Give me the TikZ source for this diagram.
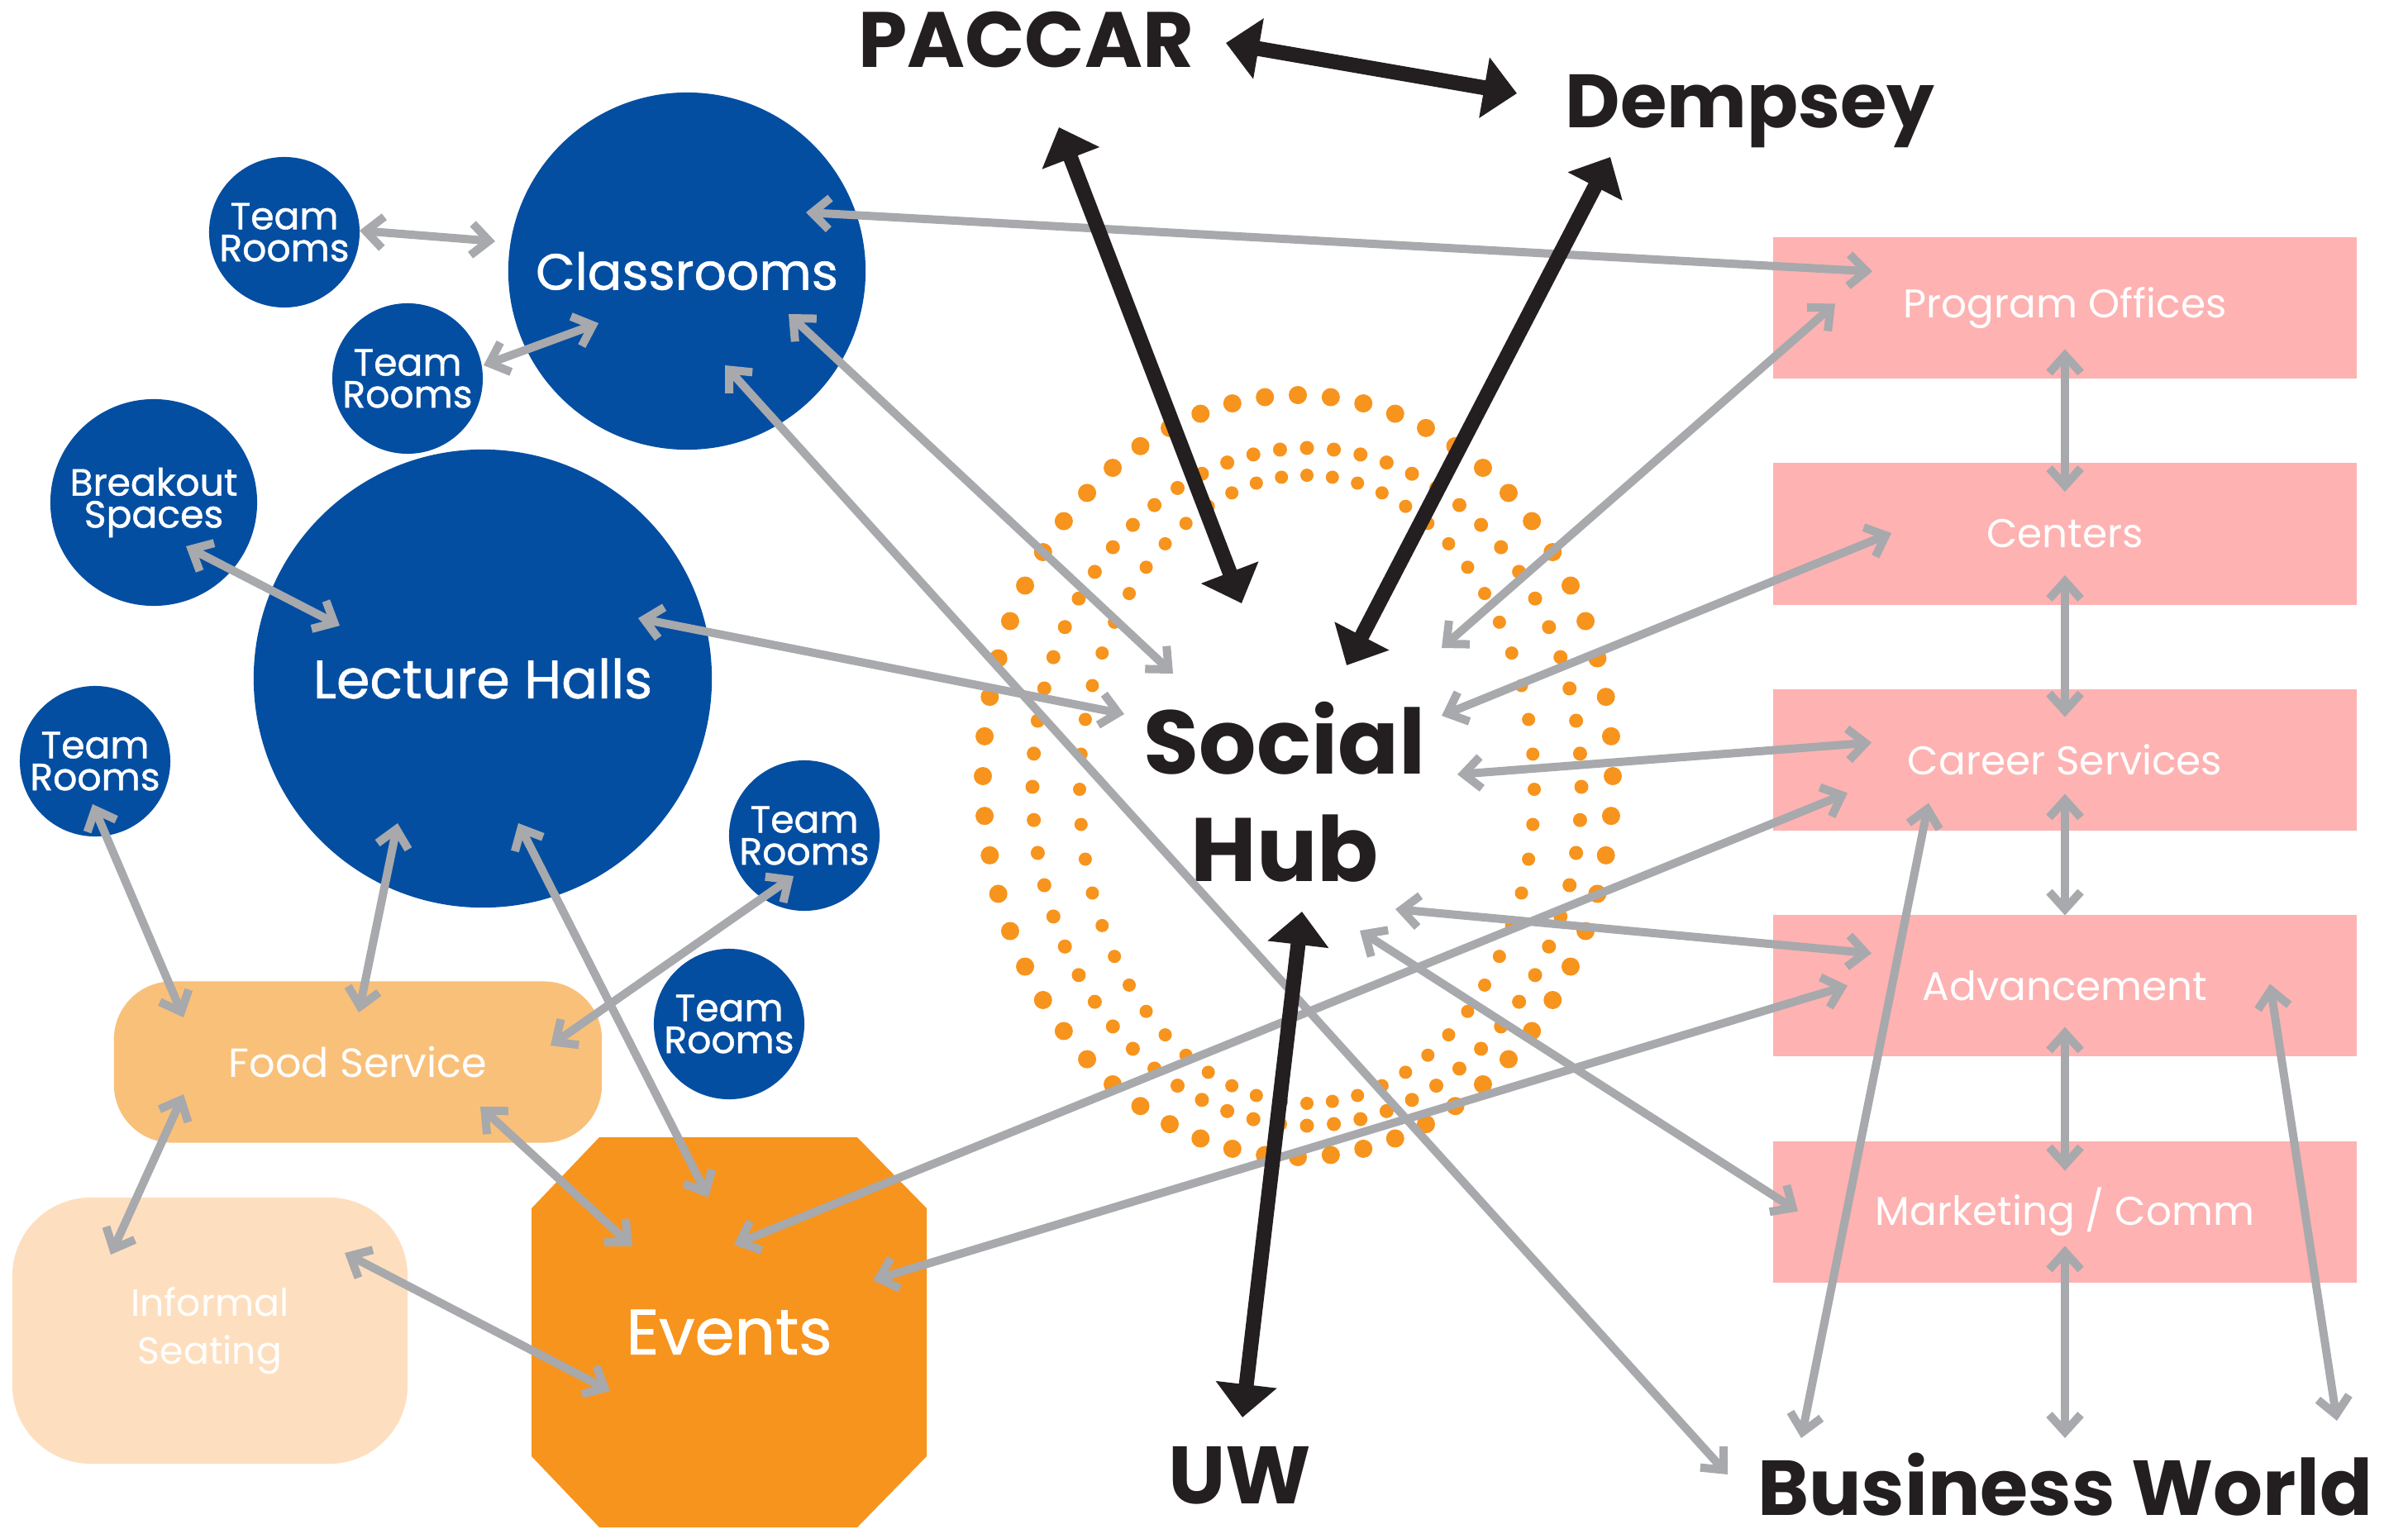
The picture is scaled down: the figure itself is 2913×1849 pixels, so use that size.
\documentclass[tikz,border=0pt]{standalone}
\usepackage{fontspec}
\setmainfont{Poppins}
\newfontfamily\medfont{Poppins}[FakeBold=1]
\usetikzlibrary{arrows.meta,calc}

\definecolor{hubblue}{RGB}{4,78,162}
\definecolor{hubgray}{RGB}{167,169,172}
\definecolor{hubblack}{RGB}{35,31,32}
\definecolor{hubpink}{RGB}{254,178,178}
\definecolor{hubfood}{RGB}{249,192,122}
\definecolor{hubseat}{RGB}{253,223,191}
\definecolor{huborange}{RGB}{247,148,29}

\tikzset{
  room/.style={circle,fill=hubblue,text=white,inner sep=0pt,align=center},
  teamroom/.style={room,minimum size=1.82cm,font=\medfont\fontsize{13}{11}\selectfont},
  dept/.style={fill=hubpink,text=white,minimum width=7.06cm,minimum height=1.71cm,
    inner sep=0pt,font=\fontsize{13.8}{16}\selectfont},
  place/.style={text=hubblack,inner sep=0pt,anchor=base,font=\bfseries\fontsize{28}{30}\selectfont},
  link/.style={draw=hubgray,line width=0.1cm,
    {Straight Barb[width=0.38cm,length=0.21cm]}-{Straight Barb[width=0.38cm,length=0.21cm]}},
  tie/.style={draw=hubblack,line width=0.18cm,
    {Triangle[width=0.72cm,length=0.4cm]}-{Triangle[width=0.72cm,length=0.4cm]}},
  hubdot/.style={fill=huborange}
}

\begin{document}
\begin{tikzpicture}[x=0.01cm,y=-0.01cm]
  \useasboundingbox (0,0) rectangle (2913,1849);

  \node[room,minimum size=4.32cm,font=\medfont\fontsize{17.5}{20}\selectfont] (cls) at (831,328) {Classrooms};
  \node[room,minimum size=5.54cm,font=\medfont\fontsize{18.5}{20}\selectfont] (lec) at (584,821) {Lecture Halls};
  \node[teamroom] (tr1) at (344,281) {Team\\Rooms};
  \node[teamroom] (tr2) at (493,458) {Team\\Rooms};
  \node[teamroom] (tr3) at (115,921) {Team\\Rooms};
  \node[teamroom] (tr4) at (973,1011) {Team\\Rooms};
  \node[teamroom] (tr5) at (882,1239) {Team\\Rooms};
  \node[teamroom,minimum size=2.5cm] (brk) at (186,608) {Breakout\\Spaces};

  \node[fill=hubfood,text=white,minimum width=5.9cm,minimum height=1.95cm,rounded corners=0.7cm,
    font=\fontsize{14}{16}\selectfont] (food) at (433,1285) {Food Service};
  \node[fill=hubseat,text=white,minimum width=4.78cm,minimum height=3.22cm,rounded corners=0.95cm,
    align=center,font=\fontsize{13}{16.5}\selectfont] (inf) at (254,1610) {Informal\\Seating};
  \fill[huborange] (643,1462) -- (725,1376) -- (1037,1376) -- (1121,1462)
    -- (1121,1762) -- (1037,1848) -- (725,1848) -- (643,1762) -- cycle;
  \node[text=white,font=\medfont\fontsize{22}{24}\selectfont] (evt) at (882,1612) {Events};

  \node[dept] (po) at (2498,372.5) {Program Offices};
  \node[dept] (cen) at (2498,646) {Centers};
  \node[dept] (cs) at (2498,919.5) {Career Services};
  \node[dept] (adv) at (2498,1192.5) {Advancement};
  \node[dept] (mkt) at (2498,1466.5) {Marketing / Comm};

  \coordinate (ring) at (1570,939);
  \foreach \dx/\dy/\rx/\ry/\n/\d in {0/0/381/461/60/0.11,11/13/332/410/64/0.085,11/16/275/380/56/0.08}
    \foreach \i in {1,...,\n}
      \fill[hubdot] ($(ring)+({\dx+\rx*cos(360/\n*\i)},{\dy+\ry*sin(360/\n*\i)})$) circle (\d cm);

  \node[text=hubblack,align=center,font=\bfseries\fontsize{31}{37}\selectfont] (hub) at (1554,958) {Social\\Hub};
  \node[place,font=\bfseries\fontsize{27}{30}\selectfont] (paccar) at (1241,82) {PACCAR};
  \node[place,font=\bfseries\fontsize{26}{30}\selectfont] (demp) at (2117,155) {Dempsey};
  \node[place] (uw) at (1500,1819) {UW};
  \node[place,font=\bfseries\fontsize{26.8}{30}\selectfont] (bw) at (2498,1833) {Business World};

  \draw[link] ($(tr1)+(91,-2)$) -- ($(cls)+(-232,-36)$);
  \draw[link] ($(tr2)+(92,-16)$) -- ($(cls)+(-107,63)$);
  \draw[link] ($(cls)+(144,-71)$) -- ($(po)+(-233,-44)$);
  \draw[link] ($(cls)+(123,52)$) -- ($(hub)+(-135,-143)$);
  \draw[link] ($(cls)+(46,114)$) -- ($(bw.base)+(-408,-49)$);
  \draw[link] ($(brk)+(39,53)$) -- ($(lec)+(-173,-64)$);
  \draw[link] ($(lec)+(188,-73)$) -- ($(hub)+(-194,-94)$);
  \draw[link] ($(tr3)+(-3,52)$) -- ($(food)+(-211,-54)$);
  \draw[link] ($(lec)+(-103,175)$) -- ($(food)+(1,-60)$);
  \draw[link] ($(lec)+(43,175)$) -- ($(evt)+(-25,-163)$);
  \draw[link] ($(tr4)+(-13,49)$) -- ($(food)+(233,-20)$);
  \draw[link] ($(food)+(-211,39)$) -- ($(inf)+(-120,-92)$);
  \draw[link] ($(food)+(148,54)$) -- ($(evt)+(-117,-104)$);
  \draw[link] ($(inf)+(163,-94)$) -- ($(evt)+(-144,71)$);
  \draw[link] ($(evt)+(6,-106)$) -- ($(cs)+(-263,40)$);
  \draw[link] ($(evt)+(174,-63)$) -- ($(adv)+(-263,0)$);
  \draw[link] ($(hub)+(190,-174)$) -- ($(po)+(-278,-5)$);
  \draw[link] ($(hub)+(190,-92)$) -- ($(cen)+(-210,-1)$);
  \draw[link] ($(hub)+(209,-21)$) -- ($(cs)+(-234,-21)$);
  \draw[link] ($(hub)+(134,142)$) -- ($(adv)+(-234,-39)$);
  \draw[link] ($(hub)+(91,168)$) -- ($(mkt)+(-323,-1)$);
  \draw[link] ($(po)+(0,50)$) -- ($(cen)+(0,-51)$);
  \draw[link] ($(cen)+(0,50)$) -- ($(cs)+(0,-52)$);
  \draw[link] ($(cs)+(0,41)$) -- ($(adv)+(0,-85)$);
  \draw[link] ($(adv)+(0,50)$) -- ($(mkt)+(0,-50)$);
  \draw[link] ($(mkt)+(0,41)$) -- ($(bw.base)+(0,-93)$);
  \draw[link] ($(cs)+(-165,52)$) -- ($(bw.base)+(-319,-93)$);
  \draw[link] ($(adv)+(248,-2)$) -- ($(bw.base)+(329,-114)$);

  \draw[tie] ($(paccar.base)+(242,-30)$) -- ($(demp.base)+(-282,-42)$);
  \draw[tie] ($(paccar.base)+(40,72)$) -- ($(hub)+(-52,-228)$);
  \draw[tie] ($(demp.base)+(-169,35)$) -- ($(hub)+(75,-153)$);
  \draw[tie] ($(uw.base)+(3,-104)$) -- ($(hub)+(21,145)$);
\end{tikzpicture}
\end{document}
